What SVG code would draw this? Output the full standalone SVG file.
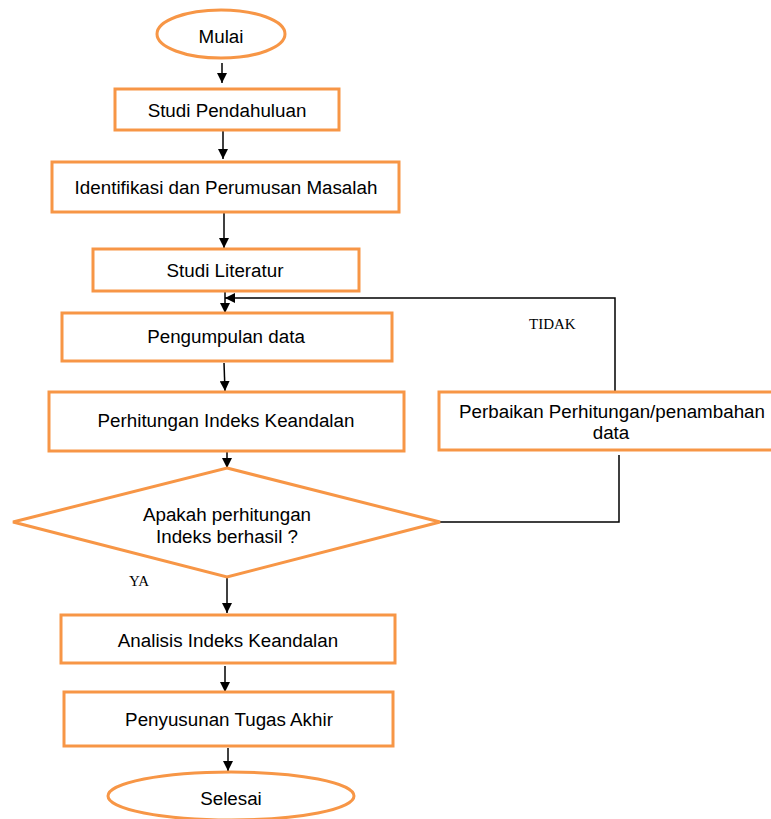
<svg xmlns="http://www.w3.org/2000/svg" width="771" height="819" viewBox="0 0 771 819">
<defs>
<marker id="ah" markerUnits="userSpaceOnUse" markerWidth="10" markerHeight="10" viewBox="0 0 10 10" refX="10" refY="5" orient="auto">
<path d="M0,0 L10,5 L0,10 Z" fill="#000"/>
</marker>
<style>
.box{fill:#fff;stroke:#F79646;stroke-width:3}
.t{font-family:"Liberation Sans",Arial,sans-serif;font-size:18.8px;fill:#000;text-anchor:middle}
.lbl{font-family:"Liberation Serif","Times New Roman",serif;font-size:15px;fill:#000}
.c{fill:none;stroke:#000;stroke-width:1.5}
.a{marker-end:url(#ah)}
</style>
</defs>
<rect width="771" height="819" fill="#fff"/>
<g id="connectors">
<line class="c a" x1="222" y1="63" x2="222" y2="83"/>
<line class="c a" x1="223" y1="131" x2="223" y2="159"/>
<line class="c a" x1="224" y1="213" x2="224" y2="248"/>
<line class="c a" x1="225" y1="292" x2="225" y2="313"/>
<line class="c a" x1="224" y1="363" x2="225" y2="391"/>
<line class="c a" x1="227" y1="452" x2="227" y2="468"/>
<line class="c a" x1="227" y1="578" x2="227" y2="613"/>
<line class="c a" x1="225" y1="666" x2="225" y2="692"/>
<line class="c a" x1="228" y1="748" x2="228" y2="771"/>
<polyline class="c" points="440,522 619,522 619,455"/>
<polyline class="c a" points="615,391 615,298 225,298"/>
<text class="lbl" x="529" y="329">TIDAK</text>
<text class="lbl" x="129" y="586">YA</text>
</g>
<g id="mulai">
<ellipse class="box" cx="221" cy="34" rx="64" ry="24"/>
<text class="t" x="221" y="43">Mulai</text>
</g>
<g id="studi-pendahuluan">
<rect class="box" x="115" y="89" width="224" height="41"/>
<text class="t" x="227" y="117">Studi Pendahuluan</text>
</g>
<g id="identifikasi">
<rect class="box" x="52" y="162" width="347" height="50"/>
<text class="t" x="226" y="194">Identifikasi dan Perumusan Masalah</text>
</g>
<g id="studi-literatur">
<rect class="box" x="93" y="249" width="266" height="42"/>
<text class="t" x="225" y="277">Studi Literatur</text>
</g>
<g id="pengumpulan">
<rect class="box" x="62" y="313" width="330" height="48"/>
<text class="t" x="226" y="343">Pengumpulan data</text>
</g>
<g id="perhitungan">
<rect class="box" x="49" y="392" width="355" height="59"/>
<text class="t" x="226" y="427">Perhitungan Indeks Keandalan</text>
</g>
<g id="keputusan">
<polygon class="box" points="227,468 440,522 227,577 13,522"/>
<text class="t" x="227" y="521">Apakah perhitungan</text>
<text class="t" x="227" y="543">Indeks berhasil ?</text>
</g>
<g id="perbaikan">
<rect class="box" x="439" y="392" width="336" height="58"/>
<text class="t" x="612" y="418">Perbaikan Perhitungan/penambahan</text>
<text class="t" x="611" y="439">data</text>
</g>
<g id="analisis">
<rect class="box" x="61" y="615" width="334" height="48"/>
<text class="t" x="228" y="647">Analisis Indeks Keandalan</text>
</g>
<g id="penyusunan">
<rect class="box" x="64" y="692" width="329" height="54"/>
<text class="t" x="229" y="726">Penyusunan Tugas Akhir</text>
</g>
<g id="selesai">
<ellipse class="box" cx="231" cy="796" rx="123" ry="24"/>
<text class="t" x="231" y="805">Selesai</text>
</g>
</svg>
